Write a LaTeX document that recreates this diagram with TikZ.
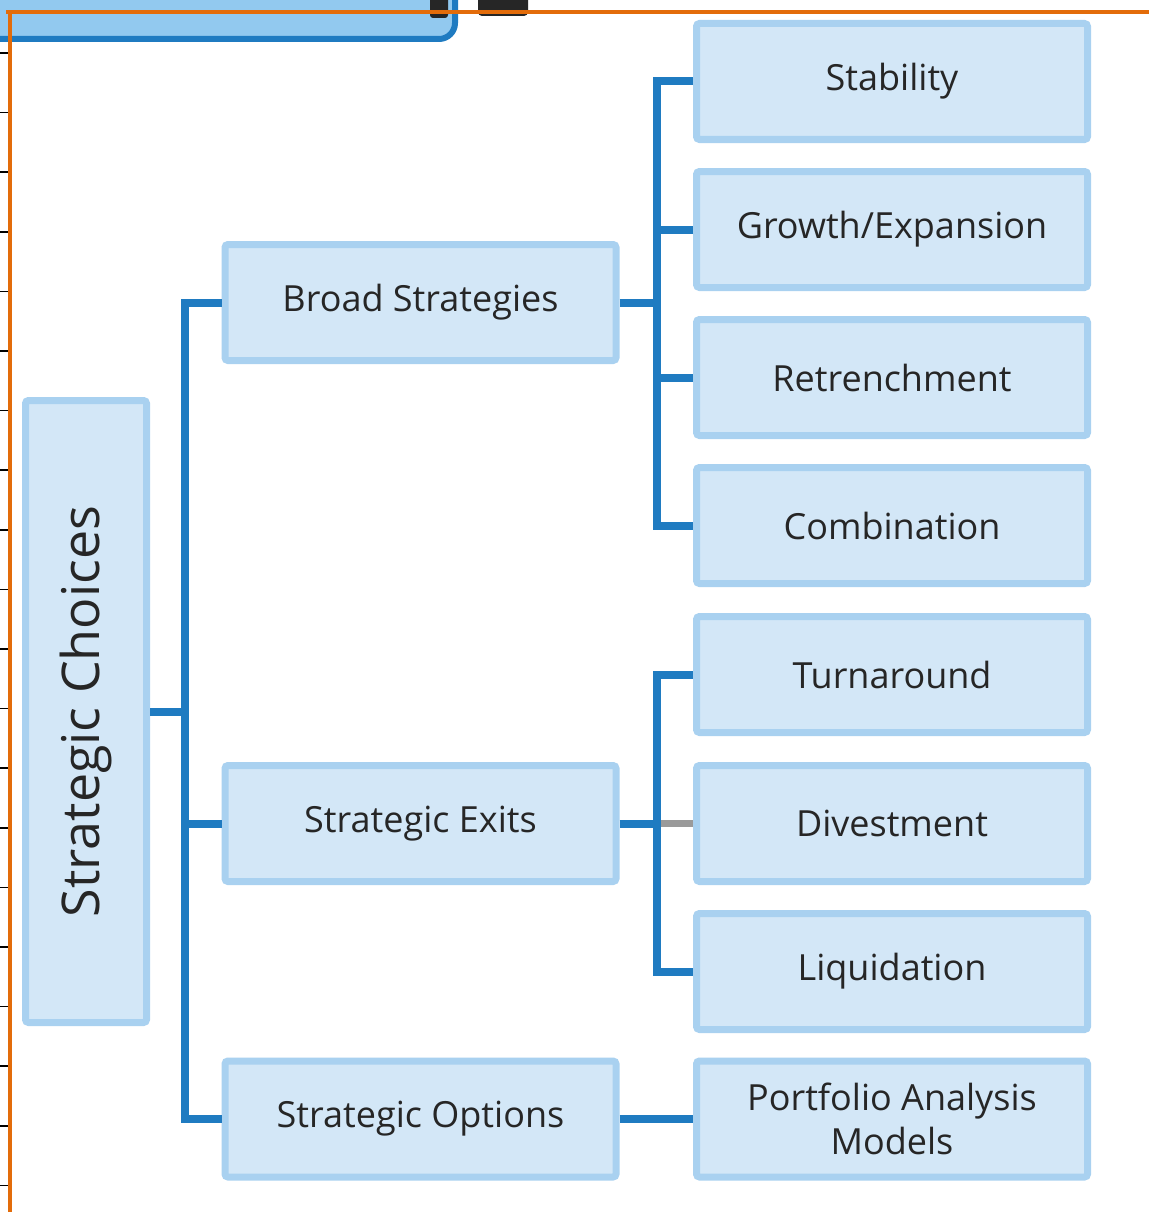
\documentclass[tikz,border=0pt]{standalone}
\usepackage{fontspec}
\setmainfont{Open Sans}
\definecolor{nodefill}{HTML}{D3E7F7}
\definecolor{nodeedge}{HTML}{A9D1F0}
\definecolor{linkblue}{HTML}{1F7BC1}
\definecolor{linkgray}{HTML}{9A9A9A}
\definecolor{framecol}{HTML}{E36C0A}
\definecolor{topfill}{HTML}{92C9EF}
\definecolor{textcol}{HTML}{262626}
\begin{document}
\begin{tikzpicture}[x=1pt,y=-1pt,
  box/.style={draw=nodeedge,fill=nodefill,line width=7pt,rounded corners=3pt,
    minimum width=391pt,minimum height=116pt,align=center,text=textcol,
    font=\fontsize{36}{44}\selectfont,inner sep=0pt},
  link/.style={draw=linkblue,line width=8pt},
  graylink/.style={draw=linkgray,line width=7pt}]
\useasboundingbox (0,0) rectangle (1149,1212);
\fill[white] (0,0) rectangle (1149,1212);
% cut-off box at top
\draw[draw=linkblue,fill=topfill,line width=6pt,rounded corners=16pt]
  (-20,-40) rectangle (455,39);
\fill[textcol,rounded corners=3pt] (430,-5) rectangle (448,18);
\fill[textcol,rounded corners=4pt] (478,-5) rectangle (528,16);
% frame
\draw[framecol,line width=4pt] (6,12.5) -- (1149,12.5);
\draw[framecol,line width=4pt] (9.5,11) -- (9.5,1212);
\foreach \k in {0,...,19}{
  \draw[black,line width=1.6pt] (0,53+59.6*\k) -- (8,53+59.6*\k);
}
% nodes
\node[box,minimum width=121pt,minimum height=622pt] (sc) at (86,711.5) {};
\node[rotate=90,text=textcol,font=\fontsize{52}{58}\selectfont] (sct) at (sc.center) {Strategic Choices};
\node[box] (bs) at (420.5,302.5) {Broad Strategies};
\node[box] (se) at (420.5,823.5) {Strategic Exits};
\node[box] (so) at (420.5,1119) {Strategic Options};
\node[box] (st) at (892,81.5) {Stability};
\node[box] (gr) at (892,229.5) {Growth/Expansion};
\node[box] (re) at (892,377.5) {Retrenchment};
\node[box] (co) at (892,525.5) {Combination};
\node[box] (tu) at (892,674.5) {Turnaround};
\node[box] (dv) at (892,823.5) {Divestment};
\node[box] (li) at (892,971.5) {Liquidation};
\node[box] (pa) at (892,1119) {Portfolio Analysis\\Models};
% connectors
\coordinate (j1) at (185,711.5);
\draw[link] (sc.east) -- (j1);
\draw[link] (bs.west) -| (j1) |- (so.west);
\draw[link] (j1) |- (se.west);
\coordinate (j2) at (657,302.5);
\draw[link] (bs.east) -- (j2);
\draw[link] (st.west) -| (j2) |- (co.west);
\draw[link] (gr.west) -| (j2);
\draw[link] (re.west) -| (j2);
\coordinate (j3) at (657,823.5);
\draw[graylink] (j3) -- (dv.west);
\draw[link] (se.east) -- (j3);
\draw[link] (tu.west) -| (j3) |- (li.west);
\draw[link] (so.east) -- (pa.west);
\end{tikzpicture}
\end{document}
